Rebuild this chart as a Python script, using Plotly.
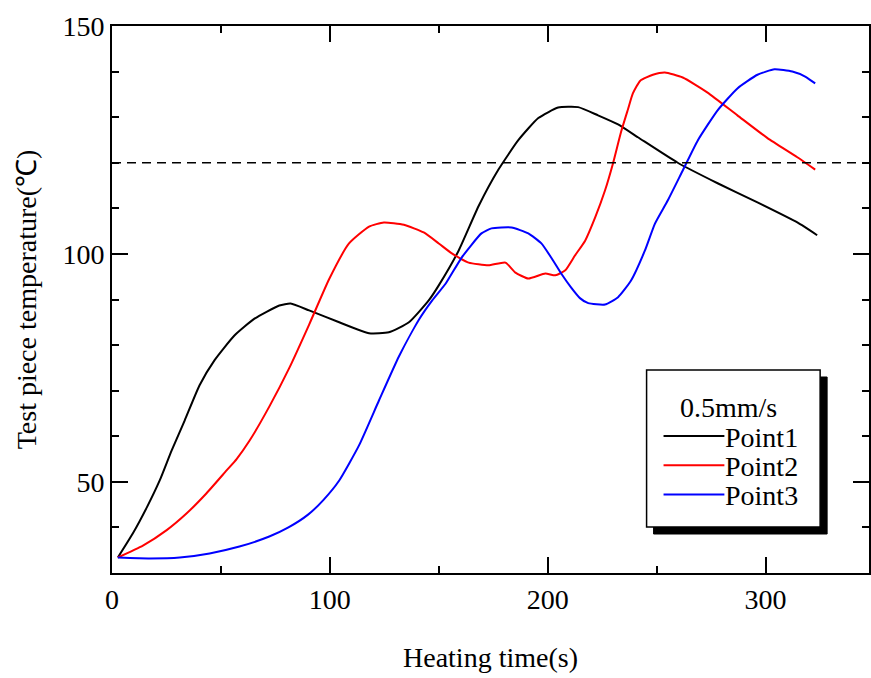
import plotly.graph_objects as go

# Heating time (s) and test-piece temperature (°C) for each measuring point
time_p1 = [2.7, 9.6, 16.0, 21.9, 27.4, 33.4, 40.2, 47.1, 56.2, 65.4, 76.8, 82.0,
           90.5, 104.3, 118.0, 127.1, 136.3, 145.4, 150.0, 159.1, 168.3, 177.4,
           186.6, 195.7, 204.8, 214.0, 223.1, 232.3, 241.4, 259.7, 278.0, 296.3,
           314.6, 323.7]
temp_p1 = [33.4, 38.7, 44.4, 50.3, 56.9, 63.5, 71.2, 76.7, 82.1, 85.8, 88.7, 89.1,
           87.6, 85.0, 82.6, 82.8, 85.0, 89.8, 93.1, 100.7, 110.5, 118.5,
           125.0, 129.8, 132.1, 132.2, 130.4, 128.4, 125.6, 120.0, 115.5, 111.3,
           106.9, 104.1]

time_p2 = [2.7, 14.2, 25.1, 34.3, 43.4, 52.6, 57.2, 63.1, 72.2, 81.4, 90.5, 99.7,
           108.8, 118.0, 124.8, 134.0, 143.1, 150.0, 156.0, 163.7, 172.8, 180.6,
           185.2, 191.1, 198.9, 203.5, 208.1, 212.6, 217.2, 221.8, 226.3, 230.0,
           233.7, 236.9, 239.1, 242.5, 248.3, 253.8, 262.0, 273.4, 287.1, 300.9,
           314.6, 322.8]
temp_p2 = [33.4, 36.0, 39.4, 43.1, 47.5, 52.5, 55.0, 59.0, 66.5, 75.0, 84.5, 94.5,
           102.3, 106.0, 106.9, 106.4, 104.7, 102.3, 100.1, 98.1, 97.5, 98.1,
           95.9, 94.6, 95.7, 95.3, 96.4, 99.7, 102.9, 108.0, 113.9, 119.9,
           126.8, 131.8, 135.2, 138.0, 139.3, 139.8, 138.7, 135.4, 130.4, 125.4,
           121.2, 118.5]

time_p3 = [2.7, 17.4, 31.1, 44.8, 58.5, 72.2, 81.0, 90.0, 97.0, 104.3, 113.4, 122.6,
           131.7, 140.8, 147.0, 153.2, 160.5, 169.6, 174.2, 183.4, 191.1, 197.1,
           201.6, 206.2, 210.8, 214.8, 218.6, 226.3, 232.3, 238.2, 244.6, 249.2,
           255.1, 262.0, 268.9, 278.0, 287.1, 296.3, 304.1, 312.3, 318.2, 322.8]
temp_p3 = [33.4, 33.2, 33.4, 34.3, 35.8, 38.0, 40.0, 42.8, 46.0, 50.3, 58.0, 67.9,
           77.5, 85.5, 89.8, 93.5, 99.2, 104.5, 105.6, 105.8, 104.5, 102.3,
           99.2, 95.7, 92.6, 90.3, 89.2, 88.9, 90.5, 94.1, 100.7, 106.6,
           111.7, 118.3, 124.9, 131.5, 136.3, 139.3, 140.5, 140.0, 138.9, 137.4]

series_names = ["Point1", "Point2", "Point3"]
series_colors = ["#000000", "#ff0000", "#0000ff"]
legend_title = "0.5mm/s"
limit_temp = 120

FONT = "Liberation Serif, Times New Roman, serif"
FS = 28

fig = go.Figure()
for t, v, name, col in zip([time_p1, time_p2, time_p3],
                           [temp_p1, temp_p2, temp_p3],
                           series_names, series_colors):
    fig.add_trace(go.Scatter(x=t, y=v, mode="lines", name=name,
                             line=dict(color=col, width=2, shape="spline", smoothing=0.5),
                             showlegend=False))

# Figure geometry in pixels, used to place the boxed legend in paper units
W, H = 871, 678
ML, MR, MT, MB = 112, 0, 26, 105
PW, PH = W - ML - MR, H - MT - MB


def px(xp):
    return (xp - ML) / PW


def py(yp):
    return (H - MB - yp) / PH


shapes = [
    # temperature limit reference line
    dict(type="line", xref="paper", yref="y", x0=0, x1=1, y0=limit_temp, y1=limit_temp,
         line=dict(color="black", width=1.5, dash="9px,6px"), layer="above"),
    # legend drop shadow and frame
    dict(type="rect", xref="paper", yref="paper", x0=px(655), x1=px(829),
         y0=py(534), y1=py(377), fillcolor="black", line=dict(color="black", width=1),
         layer="above"),
    dict(type="rect", xref="paper", yref="paper", x0=px(648), x1=px(822),
         y0=py(527), y1=py(370), fillcolor="white", line=dict(color="black", width=1.5),
         layer="above"),
]
annotations = [
    dict(xref="paper", yref="paper", x=px(730), y=py(407), text=legend_title,
         showarrow=False, xanchor="center", yanchor="middle",
         font=dict(family=FONT, size=FS, color="black")),
]
for i, (name, col) in enumerate(zip(series_names, series_colors)):
    yy = 436 + i * 29.3
    shapes.append(dict(type="line", xref="paper", yref="paper", x0=px(665), x1=px(726),
                       y0=py(yy), y1=py(yy), line=dict(color=col, width=2), layer="above"))
    annotations.append(dict(xref="paper", yref="paper", x=px(725), y=py(yy + 1), text=name,
                            showarrow=False, xanchor="left", yanchor="middle",
                            font=dict(family=FONT, size=FS, color="black")))

fig.update_layout(
    width=W, height=H,
    margin=dict(l=ML, r=MR, t=MT, b=MB, pad=0),
    paper_bgcolor="white", plot_bgcolor="white",
    font=dict(family=FONT, size=FS, color="black"),
    shapes=shapes, annotations=annotations,
    showlegend=False,
)

fig.update_xaxes(
    range=[0, 347.5], tick0=0, dtick=100, ticks="inside", ticklen=16, tickwidth=2,
    tickcolor="black", showline=True, linecolor="black", linewidth=2, mirror="ticks",
    showgrid=False, zeroline=False,
    minor=dict(dtick=50, ticks="inside", ticklen=7, tickwidth=2, tickcolor="black", showgrid=False),
    tickfont=dict(family=FONT, size=FS),
    title=dict(text="Heating time(s)", font=dict(family=FONT, size=FS), standoff=34),
)
fig.update_yaxes(
    range=[30, 150], tick0=0, dtick=50, ticks="inside", ticklen=16, tickwidth=2,
    tickcolor="black", showline=True, linecolor="black", linewidth=2, mirror="ticks",
    showgrid=False, zeroline=False,
    minor=dict(dtick=10, ticks="inside", ticklen=7, tickwidth=2, tickcolor="black", showgrid=False),
    tickfont=dict(family=FONT, size=FS),
    title=dict(text="Test piece temperature(℃)", font=dict(family=FONT, size=FS), standoff=18),
)

fig.write_html("out.html")
